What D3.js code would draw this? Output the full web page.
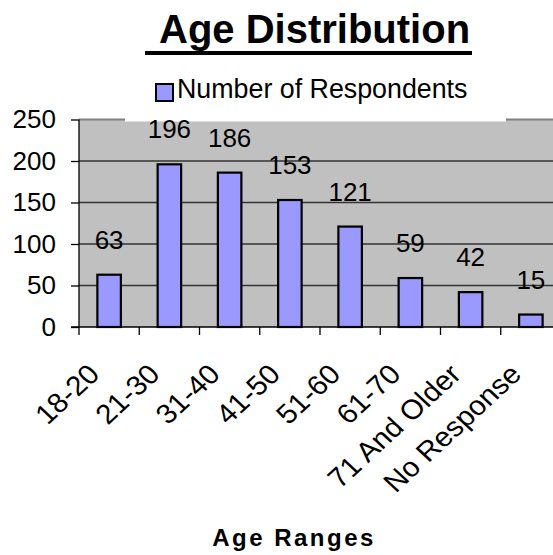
<!DOCTYPE html>
<html>
<head>
<meta charset="utf-8">
<script src="https://cdn.jsdelivr.net/npm/d3@7"></script>
<style>
  body { margin: 0; background: #fff; }
  text { font-family: "Liberation Sans", Arial, sans-serif; fill: #000; }
</style>
</head>
<body>
<svg id="chart" width="553" height="555"></svg>
<script>
var categories = ["18-20", "21-30", "31-40", "41-50", "51-60", "61-70", "71 And Older", "No Response"];
var respondents = [63, 196, 186, 153, 121, 59, 42, 15];
var yTicks = [0, 50, 100, 150, 200, 250];
var seriesName = "Number of Respondents";

var svg = d3.select("#chart"),
    plot = {left: 79, right: 561, top: 119.5, bottom: 327};

var data = categories.map(function(c, i) { return {cat: c, value: respondents[i]}; });

var x = d3.scaleBand().domain(categories).range([plot.left, plot.right]).padding(0),
    y = d3.scaleLinear().domain([0, 250]).range([plot.bottom, plot.top]);

var barW = x.bandwidth() * 0.39;

// title
svg.append("text")
    .attr("x", 159).attr("y", 43)
    .style("font-size", "40px").style("font-weight", "bold")
    .text("Age Distribution");
svg.append("line")
    .attr("x1", 145).attr("x2", 472).attr("y1", 53).attr("y2", 53)
    .attr("stroke", "#000").attr("stroke-width", 4);

// plot area
svg.append("rect")
    .attr("x", plot.left).attr("y", plot.top)
    .attr("width", plot.right - plot.left).attr("height", plot.bottom - plot.top)
    .attr("fill", "#c0c0c0");

// gridlines
svg.append("g").selectAll("line")
    .data(yTicks.filter(function(d) { return d > 0 && d < 250; }))
    .enter().append("line")
    .attr("x1", plot.left).attr("x2", plot.right)
    .attr("y1", function(d) { return y(d); }).attr("y2", function(d) { return y(d); })
    .attr("stroke", "#333").attr("stroke-width", 1.3);

// top border of plot area
svg.append("line")
    .attr("x1", plot.left).attr("x2", plot.right)
    .attr("y1", y(250)).attr("y2", y(250))
    .attr("stroke", "#808080").attr("stroke-width", 2);

// bars
svg.append("g").selectAll("rect")
    .data(data)
    .enter().append("rect")
    .attr("x", function(d) { return x(d.cat) + (x.bandwidth() - barW) / 2; })
    .attr("y", function(d) { return y(d.value); })
    .attr("width", barW)
    .attr("height", function(d) { return y(0) - y(d.value); })
    .attr("fill", "#9999ff")
    .attr("stroke", "#000").attr("stroke-width", 2.2);

// legend (its white box hides part of the top border)
var legend = svg.append("g");
legend.append("rect")
    .attr("x", 125).attr("y", 66).attr("width", 381).attr("height", 55.5)
    .attr("fill", "#fff");
legend.append("rect")
    .attr("x", 156).attr("y", 84).attr("width", 17).attr("height", 17)
    .attr("fill", "#9999ff").attr("stroke", "#000").attr("stroke-width", 2);
legend.append("text")
    .attr("x", 177).attr("y", 98)
    .style("font-size", "26.8px")
    .text(seriesName);

// y axis
var yAxis = svg.append("g")
    .attr("transform", "translate(" + plot.left + ",0)")
    .call(d3.axisLeft(y).tickValues(yTicks).tickSize(8).tickPadding(15));
yAxis.select(".domain").attr("stroke", "#000").attr("stroke-width", 1.3)
    .attr("d", "M0," + y(0) + "V" + y(250));
yAxis.selectAll(".tick line").attr("stroke", "#000").attr("stroke-width", 1.3);
yAxis.selectAll(".tick text")
    .style("font-size", "26px")
    .style("font-family", "'Liberation Sans', Arial, sans-serif")
    .attr("fill", "#000");

// x axis line and boundary ticks
var xAxis = svg.append("g");
xAxis.append("line")
    .attr("x1", plot.left - 8).attr("x2", plot.right)
    .attr("y1", y(0)).attr("y2", y(0))
    .attr("stroke", "#000").attr("stroke-width", 1.3);
xAxis.selectAll(".xtick")
    .data(categories)
    .enter().append("line")
    .attr("class", "xtick")
    .attr("x1", function(d) { return x(d); }).attr("x2", function(d) { return x(d); })
    .attr("y1", y(0)).attr("y2", y(0) + 8)
    .attr("stroke", "#000").attr("stroke-width", 1.3);

// rotated category labels (slightly stretched sideways, as in the original)
xAxis.selectAll(".xlabel")
    .data(categories)
    .enter().append("text")
    .attr("class", "xlabel")
    .attr("text-anchor", "end")
    .attr("transform", function(d) {
      return "translate(" + (x(d) + x.bandwidth() / 2 - 8) + ",376) scale(1.08,1) rotate(-45)";
    })
    .style("font-size", "27.5px")
    .text(function(d) { return d; });

// value labels
svg.append("g").selectAll("text")
    .data(data)
    .enter().append("text")
    .attr("text-anchor", "middle")
    .attr("x", function(d) { return x(d.cat) + x.bandwidth() / 2; })
    .attr("y", function(d) { return y(d.value) - 26; })
    .style("font-size", "26px")
    .text(function(d) { return d.value; });

// axis title
svg.append("text")
    .attr("x", 294).attr("y", 546)
    .attr("text-anchor", "middle")
    .style("font-size", "24px").style("font-weight", "bold")
    .style("letter-spacing", "2.5px")
    .text("Age Ranges");
</script>
</body>
</html>
